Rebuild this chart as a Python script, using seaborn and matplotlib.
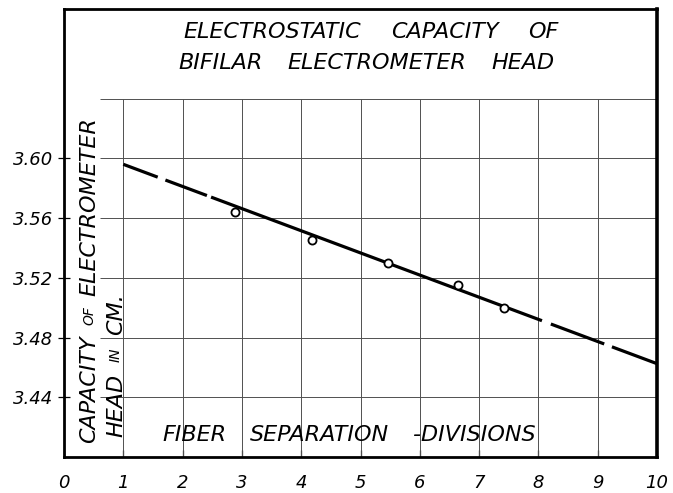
import numpy as np
import pandas as pd
import matplotlib
matplotlib.use("Agg")
import matplotlib.pyplot as plt
import seaborn as sns

# ---------------- data ----------------
fiber_sep = [2.88, 4.19, 5.46, 6.65, 7.42]
capacity = [3.564, 3.545, 3.530, 3.515, 3.500]
fit_x = [1.0, 10.0]
fit_y = [3.596, 3.4625]
# x positions where the drawn fit line alternates between ink and gap
fit_breaks = [1.0, 1.58, 1.71, 2.41, 2.48, 8.06, 8.21, 9.11, 9.24, 10.0]
x_ticks = list(range(0, 11))
x_tick_labels = [str(v) for v in x_ticks]
y_ticks = [3.44, 3.48, 3.52, 3.56, 3.60]
y_tick_labels = ["3.44", "3.48", "3.52", "3.56", "3.60"]
grid_y = [3.44, 3.48, 3.52, 3.56, 3.60, 3.64]
grid_x = [1, 2, 3, 4, 5, 6, 7, 8, 9]
title_line1 = ["ELECTROSTATIC", "CAPACITY", "OF"]
title_line2 = ["BIFILAR", "ELECTROMETER", "HEAD"]
xlabel_words = ["FIBER", "SEPARATION", "-DIVISIONS"]
ylabel_line1 = ["CAPACITY", "OF", "ELECTROMETER"]
ylabel_line2 = ["HEAD", "IN", "CM."]

sns.set_theme(style="white")
plt.rcParams['font.family'] = ['DejaVu Sans']
plt.rcParams['lines.scale_dashes'] = False

W, H = 673, 493
fig = plt.figure(figsize=(W / 100, H / 100), dpi=100)
AX_L, AX_R, AX_T, AX_B = 64, 657, 9, 457
ax = fig.add_axes([AX_L / W, 1 - AX_B / H, (AX_R - AX_L) / W, (AX_B - AX_T) / H])
ax.set_xlim(0, 10)
ax.set_ylim(3.40, 3.70)

def px(xp, yp):
    return ((xp - AX_L) / (AX_R - AX_L), (AX_B - yp) / (AX_B - AX_T))

# grid
ax.hlines(grid_y, 0.6, 10, color="#505050", lw=0.7, zorder=1)
ax.vlines(grid_x, 3.40, 3.64, color="#505050", lw=0.7, zorder=1)

# fitted line with hand-drawn dash layout
sns.lineplot(x=fit_x, y=fit_y, ax=ax, color="black", linewidth=2.3, zorder=2)
line = ax.get_lines()[-1]
pts = ax.transData.transform(np.column_stack([fit_x, fit_y]))
length_px = np.hypot(*(pts[1] - pts[0]))
pt_per_unit = length_px / (fit_x[1] - fit_x[0]) * 72 / fig.dpi
dash_seq = list(np.diff(fit_breaks) * pt_per_unit) + [500.0]
line.set_dashes(dash_seq)
line.set_dash_capstyle("butt")

# observed points
sns.scatterplot(x=fiber_sep, y=capacity, ax=ax, marker="o", s=34,
                facecolor="white", edgecolor="black", linewidth=1.3, zorder=3)

# spines
for side, s in ax.spines.items():
    s.set_visible(True)
    s.set_color("black")
    s.set_linewidth(2.0)
ax.spines["right"].set_linewidth(2.6)

ax.set_xticks(x_ticks)
ax.set_xticklabels(x_tick_labels, fontsize=13, fontstyle="italic")
ax.set_yticks(y_ticks)
ax.set_yticklabels(y_tick_labels, fontsize=13, fontstyle="italic")
ax.tick_params(axis="x", direction="in", length=5, width=0.9, color="black", pad=12,
               bottom=True, labelcolor="black")
ax.tick_params(axis="y", direction="inout", length=8, width=0.9, color="black", pad=4,
               left=True, labelcolor="black")
ax.set_xlabel("")
ax.set_ylabel("")

renderer = fig.canvas.get_renderer()

def lay_words(words, sizes, start, end, across, vertical=False, max_gap=40, anchor="center"):
    """Spread words between pixel positions start..end (hand-lettered look)."""
    texts = []
    for w, fs in zip(words, sizes):
        if vertical:
            t = ax.text(0, 0, w, fontsize=fs, fontstyle="italic", color="black",
                        rotation=90, ha="center", va="bottom", transform=ax.transAxes)
        else:
            t = ax.text(0, 0, w, fontsize=fs, fontstyle="italic", color="black",
                        ha="left", va="center", transform=ax.transAxes)
        texts.append(t)
    ext = []
    for t in texts:
        bb = t.get_window_extent(renderer)
        ext.append(bb.height if vertical else bb.width)
    span = abs(end - start)
    gap = min((span - sum(ext)) / (len(words) - 1), max_gap)
    group = sum(ext) + gap * (len(words) - 1)
    pos = (span - group) / 2 if anchor == "center" else 0.0
    for t, e in zip(texts, ext):
        if vertical:
            t.set_position(px(across, start - pos))
        else:
            t.set_position(px(start + pos, across))
        pos += e + gap

# title inside the frame
lay_words(title_line1, [16, 16, 16], 178, 564, 32, max_gap=30)
lay_words(title_line2, [16, 16, 16], 178, 555, 63, max_gap=30)
# x caption inside the frame
lay_words(xlabel_words, [16, 16, 16], 162, 553, 435, max_gap=24, anchor="start")
# y caption inside the frame (rotated, reading upward)
lay_words(ylabel_line1, [16, 10, 16], 443, 77, 89, vertical=True, max_gap=10, anchor="start")
lay_words(ylabel_line2, [16, 10, 16], 437, 285, 116, vertical=True, max_gap=12, anchor="start")

fig.savefig("out.png", dpi=100, facecolor="white")
